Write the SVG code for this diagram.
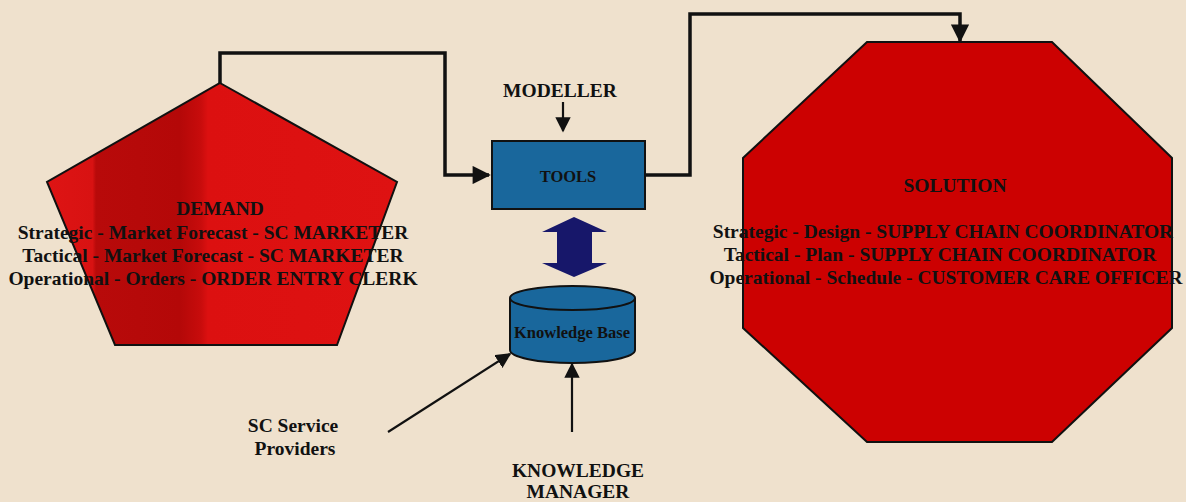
<svg xmlns="http://www.w3.org/2000/svg" width="1186" height="502" viewBox="0 0 1186 502">
  <defs>
    <style>
      .lbl { font-family: "Liberation Serif", "Times New Roman", serif; font-weight: bold; fill: #111; text-anchor: middle; font-size: 19.5px; }
      .shape { stroke: #111; stroke-width: 2; stroke-linejoin: miter; }
      .flow { fill: none; stroke: #111; stroke-width: 3.5; }
      .feed { fill: none; stroke: #111; stroke-width: 2.2; }
    </style>
    <marker id="head" viewBox="0 0 10 10" refX="9" refY="5" markerWidth="5.5" markerHeight="5.2" markerUnits="strokeWidth" orient="auto">
      <path d="M0,0 L10,5 L0,10 z" fill="#111"/>
    </marker>
    <marker id="headSm" viewBox="0 0 10 10" refX="9" refY="5" markerWidth="7" markerHeight="7" markerUnits="strokeWidth" orient="auto">
      <path d="M0,0 L10,5 L0,10 z" fill="#111"/>
    </marker>
    <linearGradient id="demandFill" x1="47" y1="0" x2="397" y2="0" gradientUnits="userSpaceOnUse">
      <stop offset="0" stop-color="#de1414"/>
      <stop offset="0.13" stop-color="#d81212"/>
      <stop offset="0.14" stop-color="#b80a0a"/>
      <stop offset="0.38" stop-color="#b40808"/>
      <stop offset="0.44" stop-color="#c80c0c"/>
      <stop offset="0.46" stop-color="#dc1010"/>
      <stop offset="1" stop-color="#de1212"/>
    </linearGradient>
  </defs>

  <rect width="1186" height="502" fill="#efe1cd"/>

  <!-- connectors -->
  <g id="connectors">
    <polyline class="flow" points="220,84 220,53 445,53 445,175 489,175" marker-end="url(#head)"/>
    <polyline class="flow" points="645,175 690,175 690,14 960,14 960,41" marker-end="url(#head)"/>
    <line class="feed" x1="563" y1="102" x2="563" y2="131" marker-end="url(#headSm)"/>
    <line class="feed" x1="388" y1="432" x2="510" y2="354" marker-end="url(#headSm)"/>
    <line class="feed" x1="572" y1="432" x2="572" y2="364" marker-end="url(#headSm)"/>
    <!-- two-way exchange between tools and knowledge base -->
    <path d="M574,217 L607,232 L592,232 L592,263 L607,263 L574,277 L542,263 L557,263 L557,232 L542,232 Z" fill="#17176a"/>
  </g>

  <g id="demand">
    <polygon class="shape" points="220,83 397,182 337,345 115,345 47,182" fill="url(#demandFill)"/>
    <text class="lbl" x="220" y="215">DEMAND</text>
    <text class="lbl" x="213" y="239">Strategic - Market Forecast - SC MARKETER</text>
    <text class="lbl" x="213" y="262">Tactical - Market Forecast - SC MARKETER</text>
    <text class="lbl" x="213" y="285">Operational - Orders - ORDER ENTRY CLERK</text>
  </g>

  <g id="modeller">
    <text class="lbl" x="560" y="97">MODELLER</text>
  </g>

  <g id="tools">
    <rect class="shape" x="492" y="141" width="153" height="68" fill="#19679c"/>
    <text class="lbl" x="568" y="182" style="font-size:16.5px">TOOLS</text>
  </g>

  <g id="knowledge-base">
    <path class="shape" d="M510,298 L510,350 A62.5,13 0 0 0 635,350 L635,298" fill="#19679c"/>
    <ellipse class="shape" cx="572.5" cy="298" rx="62.5" ry="12" fill="#19679c"/>
    <text class="lbl" x="572" y="338" style="font-size:16.5px">Knowledge Base</text>
  </g>

  <g id="solution">
    <polygon class="shape" points="867,42 1052,42 1172,158 1172,328 1052,442 867,442 743,328 743,158" fill="#cc0101"/>
    <text class="lbl" x="955" y="192">SOLUTION</text>
    <text class="lbl" x="943" y="238">Strategic - Design - SUPPLY CHAIN COORDINATOR</text>
    <text class="lbl" x="940" y="261">Tactical - Plan - SUPPLY CHAIN COORDINATOR</text>
    <text class="lbl" x="946" y="284">Operational - Schedule - CUSTOMER CARE OFFICER</text>
  </g>

  <g id="sc-service-providers">
    <text class="lbl" x="293" y="432">SC Service</text>
    <text class="lbl" x="295" y="455">Providers</text>
  </g>

  <g id="knowledge-manager">
    <text class="lbl" x="578" y="477">KNOWLEDGE</text>
    <text class="lbl" x="578" y="498">MANAGER</text>
  </g>
</svg>
